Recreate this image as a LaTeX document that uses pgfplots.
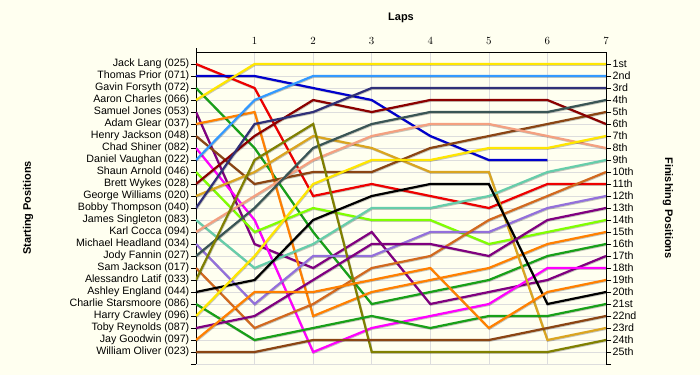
\documentclass[border=0pt]{standalone}
\usepackage{fontspec}
\setmainfont{Liberation Sans}
\usepackage{pgfplots}
\pgfplotsset{compat=1.18}
\definecolor{bg}{HTML}{FFFFF0}
\definecolor{gridc}{HTML}{DDDDDD}
\definecolor{cJack}{HTML}{EE0000}
\definecolor{cThomas}{HTML}{0000CC}
\definecolor{cGreen}{HTML}{18A018}
\definecolor{cYellow}{HTML}{FFE600}
\definecolor{cPurple}{HTML}{800080}
\definecolor{cOrange}{HTML}{FF8000}
\definecolor{cBrown}{HTML}{8B4513}
\definecolor{cMagenta}{HTML}{FF00FF}
\definecolor{cDaniel}{HTML}{3399FF}
\definecolor{cShaun}{HTML}{80FF00}
\definecolor{cBrett}{HTML}{8B0000}
\definecolor{cGeorge}{HTML}{DAA520}
\definecolor{cBobby}{HTML}{303078}
\definecolor{cJames}{HTML}{66CDAA}
\definecolor{cKarl}{HTML}{F4A080}
\definecolor{cMichael}{HTML}{9370DB}
\definecolor{cJody}{HTML}{3A5555}
\definecolor{cSam}{HTML}{D2691E}
\definecolor{cOlive}{HTML}{808000}
\begin{document}
\begin{tikzpicture}
\path[use as bounding box, fill=bg] (-196bp,-11bp) rectangle (504bp,364bp);
\begin{axis}[name=main, at={(0,0)}, anchor=south west,
  scale only axis, width=410bp, height=312bp,
  xmin=0, xmax=7, ymin=0, ymax=26, y dir=reverse,
  axis x line*=top, axis y line*=left,
  axis line style={-, black, line width=0.8bp},
  xtick={1,...,7}, xtick pos=right, xticklabel pos=right,
  xtick style={draw=none},
  ytick={1,...,26}, ytick pos=left, yticklabel pos=left,
  yticklabels={Jack Lang (025),Thomas Prior (071),Gavin Forsyth (072),Aaron Charles (066),Samuel Jones (053),Adam Glear (037),Henry Jackson (048),Chad Shiner (082),Daniel Vaughan (022),Shaun Arnold (046),Brett Wykes (028),George Williams (020),Bobby Thompson (040),James Singleton (083),Karl Cocca (094),Michael Headland (034),Jody Fannin (027),Sam Jackson (017),Alessandro Latif (033),Ashley England (044),Charlie Starsmoore (086),Harry Crawley (096),Toby Reynolds (087),Jay Goodwin (097),William Oliver (023),{}},
  ytick style={black, line width=0.8bp},
  major tick length=5bp, tick align=outside,
  tick label style={font=\fontsize{10.7}{12}\selectfont},
  yticklabel style={inner sep=1.5bp},
  xticklabel style={inner sep=1bp, yshift=1bp},
  grid=major, grid style={gridc, line width=0.6bp},
  no markers, sharp plot,
  every axis plot/.append style={line width=2.2bp, line join=miter,
    preaction={draw=black, draw opacity=0.22, line width=2.2bp,
      transform canvas={shift={(0.6bp,-0.8bp)}}}},
]
\addplot[cJack] coordinates {(0,1)(1,3)(2,12)(3,11)(4,12)(5,13)(6,11)(7,11)};
\addplot[cThomas] coordinates {(0,2)(1,2)(2,3)(3,4)(4,7)(5,9)(6,9)};
\addplot[cGreen] coordinates {(0,3)(1,8)(2,15)(3,21)(4,20)(5,19)(6,17)(7,16)};
\addplot[cYellow] coordinates {(0,4)(1,1)(2,1)(3,1)(4,1)(5,1)(6,1)(7,1)};
\addplot[cPurple] coordinates {(0,5)(1,16)(2,18)(3,15)(4,21)(5,20)(6,19)(7,17)};
\addplot[cOrange] coordinates {(0,6)(1,5)(2,22)(3,20)(4,19)(5,18)(6,16)(7,15)};
\addplot[cBrown] coordinates {(0,7)(1,11)(2,10)(3,10)(4,8)(5,7)(6,6)(7,5)};
\addplot[cMagenta] coordinates {(0,8)(1,14)(2,25)(3,23)(4,22)(5,21)(6,18)(7,18)};
\addplot[cDaniel] coordinates {(0,9)(1,4)(2,2)(3,2)(4,2)(5,2)(6,2)(7,2)};
\addplot[cShaun] coordinates {(0,10)(1,15)(2,13)(3,14)(4,14)(5,16)(6,15)(7,14)};
\addplot[cBrett] coordinates {(0,11)(1,7)(2,4)(3,5)(4,4)(5,4)(6,4)(7,6)};
\addplot[cGeorge] coordinates {(0,12)(1,10)(2,7)(3,8)(4,10)(5,10)(6,24)(7,23)};
\addplot[cBobby] coordinates {(0,13)(1,6)(2,5)(3,3)(4,3)(5,3)(6,3)(7,3)};
\addplot[cJames] coordinates {(0,14)(1,18)(2,16)(3,13)(4,13)(5,12)(6,10)(7,9)};
\addplot[cKarl] coordinates {(0,15)(1,12)(2,9)(3,7)(4,6)(5,6)(6,7)(7,8)};
\addplot[cMichael] coordinates {(0,16)(1,21)(2,17)(3,17)(4,15)(5,15)(6,13)(7,12)};
\addplot[cJody] coordinates {(0,17)(1,13)(2,8)(3,6)(4,5)(5,5)(6,5)(7,4)};
\addplot[cSam] coordinates {(0,18)(1,23)(2,21)(3,18)(4,17)(5,14)(6,12)(7,10)};
\addplot[cOlive] coordinates {(0,19)(1,9)(2,6)(3,25)(4,25)(5,25)(6,25)(7,24)};
\addplot[black] coordinates {(0,20)(1,19)(2,14)(3,12)(4,11)(5,11)(6,21)(7,20)};
\addplot[cGreen] coordinates {(0,21)(1,24)(2,23)(3,22)(4,23)(5,22)(6,22)(7,21)};
\addplot[cYellow] coordinates {(0,22)(1,17)(2,11)(3,9)(4,9)(5,8)(6,8)(7,7)};
\addplot[cPurple] coordinates {(0,23)(1,22)(2,19)(3,16)(4,16)(5,17)(6,14)(7,13)};
\addplot[cOrange] coordinates {(0,24)(1,20)(2,20)(3,19)(4,18)(5,23)(6,20)(7,19)};
\addplot[cBrown] coordinates {(0,25)(1,25)(2,24)(3,24)(4,24)(5,24)(6,23)(7,22)};
\end{axis}
\begin{axis}[at={(0,0)}, anchor=south west,
  scale only axis, width=410bp, height=312bp,
  xmin=0, xmax=7, ymin=0, ymax=26, y dir=reverse,
  axis x line=none, axis y line*=right,
  axis line style={-, black, line width=0.8bp},
  ytick={1,...,26}, ytick pos=right, yticklabel pos=right,
  yticklabels={1st,2nd,3rd,4th,5th,6th,7th,8th,9th,10th,11th,12th,13th,14th,15th,16th,17th,18th,19th,20th,21st,22nd,23rd,24th,25th,{}},
  ytick style={black, line width=0.8bp},
  major tick length=5bp, tick align=outside,
  tick label style={font=\fontsize{10.7}{12}\selectfont},
  yticklabel style={inner sep=1.5bp},
]
\end{axis}
\draw[black, line width=0.8bp] (main.north west) -- ++(0,4bp);
\node[font=\bfseries\fontsize{11}{13}\selectfont] at ([yshift=34bp]main.north) {Laps};
\node[font=\bfseries\fontsize{11}{13}\selectfont, rotate=90] at ([xshift=-168bp]main.west) {Starting Positions};
\node[font=\bfseries\fontsize{11}{13}\selectfont, rotate=-90] at ([xshift=62bp]main.east) {Finishing Positions};
\end{tikzpicture}
\end{document}
